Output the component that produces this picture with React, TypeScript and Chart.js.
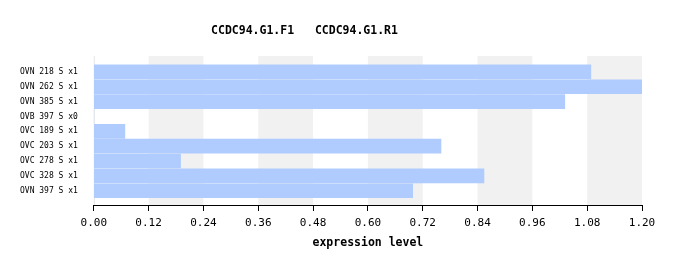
import React, { useEffect, useRef } from 'react';
import { Chart, registerables } from 'chart.js';

Chart.register(...registerables);

const titleText = 'CCDC94.G1.F1   CCDC94.G1.R1';
const categories = [
  'OVN 218 S x1',
  'OVN 262 S x1',
  'OVN 385 S x1',
  'OVB 397 S x0',
  'OVC 189 S x1',
  'OVC 203 S x1',
  'OVC 278 S x1',
  'OVC 328 S x1',
  'OVN 397 S x1',
];
const values = [1.088, 1.2, 1.031, 0, 0.068, 0.76, 0.19, 0.854, 0.698];
const xMin = 0;
const xMax = 1.2;
const xStep = 0.12;
const axisTitle = 'expression level';

const FONT = '"DejaVu Sans Mono", monospace';

const stripesPlugin = {
  id: 'stripes',
  beforeDatasetsDraw(chart: any) {
    const { ctx, chartArea, scales } = chart;
    const x = scales.x;
    const ticks = x.ticks.map((t: any) => t.value);
    ctx.save();
    ctx.fillStyle = '#f1f1f1';
    for (let i = 1; i < ticks.length - 1; i += 2) {
      const a = x.getPixelForValue(ticks[i]);
      const b = x.getPixelForValue(ticks[i + 1]);
      ctx.fillRect(a, chartArea.top, b - a, chartArea.bottom - chartArea.top);
    }
    ctx.fillStyle = '#e6e6e6';
    ctx.fillRect(chartArea.left, chartArea.top, 1, chartArea.bottom - chartArea.top);
    ctx.restore();
  },
};

const headerPlugin = {
  id: 'header',
  afterDraw(chart: any) {
    const { ctx } = chart;
    ctx.save();
    ctx.font = 'bold 11.5px ' + FONT;
    ctx.fillStyle = '#000';
    ctx.textAlign = 'center';
    ctx.textBaseline = 'middle';
    ctx.fillText(titleText, 304.5, 31);
    ctx.restore();
  },
};

export default function App() {
  const ref = useRef<HTMLCanvasElement>(null);
  useEffect(() => {
    if (!ref.current) return;
    const chart = new Chart(ref.current, {
      type: 'bar',
      data: {
        datasets: [
          {
            label: titleText,
            data: values.map((v, i) => ({ x: v, y: i })),
            backgroundColor: '#b0ccff',
            borderWidth: 0,
            barThickness: 14,
          },
        ],
      },
      plugins: [stripesPlugin, headerPlugin],
      options: {
        indexAxis: 'y',
        animation: false,
        responsive: false,
        layout: { padding: { top: 56, left: 4, right: 34, bottom: 16 } },
        plugins: {
          legend: { display: false },
          title: { display: false },
          tooltip: { enabled: false },
        },
        scales: {
          x: {
            type: 'linear',
            min: xMin,
            max: xMax,
            grid: {
              display: true,
              drawOnChartArea: false,
              drawTicks: true,
              tickLength: 6,
              color: '#000',
              tickColor: '#000',
            },
            border: { display: true, color: '#000', width: 1 },
            ticks: {
              stepSize: xStep,
              autoSkip: false,
              maxRotation: 0,
              padding: 6,
              color: '#000',
              font: { family: FONT, size: 11 },
              callback: (v: any) => Number(v).toFixed(2),
            },
            title: {
              display: true,
              text: axisTitle,
              color: '#000',
              font: { family: FONT, size: 11.5, weight: 'bold' },
              padding: { top: 0, bottom: 0 },
            },
          },
          y: {
            type: 'linear',
            reverse: true,
            offset: false,
            min: -1.07,
            max: 8.96,
            grid: { display: false, drawTicks: false },
            border: { display: false },
            ticks: {
              stepSize: 1,
              includeBounds: false,
              autoSkip: false,
              padding: 16,
              color: '#000',
              font: { family: FONT, size: 8 },
              callback: (v: any) =>
                Number.isInteger(v) && v >= 0 && v < categories.length ? categories[v] : '',
            },
          },
        },
      },
    });
    return () => chart.destroy();
  }, []);
  return (
    <canvas
      ref={ref}
      width={676}
      height={266}
      style={{ position: 'absolute', left: 0, top: 0, width: 676, height: 266 }}
    />
  );
}
